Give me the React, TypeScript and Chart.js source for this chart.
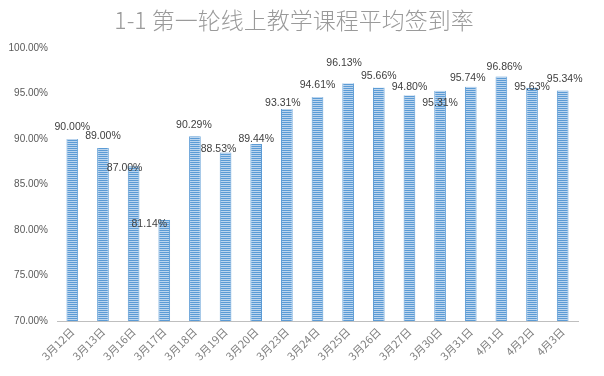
import React, { useEffect, useRef } from "react";
import { Chart, registerables } from "chart.js";

Chart.register(...registerables);

const TITLE = "1-1 第一轮线上教学课程平均签到率";
const categories = [
  "3月12日", "3月13日", "3月16日", "3月17日", "3月18日", "3月19日", "3月20日",
  "3月23日", "3月24日", "3月25日", "3月26日", "3月27日", "3月30日", "3月31日",
  "4月1日", "4月2日", "4月3日",
];
const rates = [
  90.0, 89.0, 87.0, 81.14, 90.29, 88.53, 89.44, 93.31, 94.61, 96.13, 95.66,
  94.8, 95.31, 95.74, 96.86, 95.63, 95.34,
];
const yTicks = [70, 75, 80, 85, 90, 95, 100];
// label nudges relative to the default "above bar" position (dx, dy in px)
const labelDx = [0, 0, -9, -15, -1, -7, 0, -4, 0, -4, 0, 0, 0, -3, 3, 0, 2];
const labelDy = [0, 0, 14, 16, 0, 8, 7, 6, 0, -8, 0, 3, 24, 3, 2, 11, 0];

function makeStripe(): CanvasPattern | string {
  const c = document.createElement("canvas");
  c.width = 4;
  c.height = 2;
  const g = c.getContext("2d");
  if (!g) return "#5b9bd5";
  g.fillStyle = "#5b9bd5";
  g.fillRect(0, 0, 4, 1);
  g.fillStyle = "#bcd5ee";
  g.fillRect(0, 1, 4, 1);
  return g.createPattern(c, "repeat") || "#5b9bd5";
}

const titlePlugin = {
  id: "customTitle",
  afterDraw(chart: any) {
    const ctx = chart.ctx;
    ctx.save();
    ctx.font = "300 23px 'Noto Sans CJK SC', sans-serif";
    ctx.fillStyle = "#9a9a9a";
    ctx.textAlign = "center";
    ctx.textBaseline = "middle";
    ctx.fillText(TITLE, 294, 20);
    ctx.restore();
  },
};

const labelPlugin = {
  id: "valueLabels",
  afterDatasetsDraw(chart: any) {
    const ctx = chart.ctx;
    const meta = chart.getDatasetMeta(0);
    ctx.save();
    ctx.font = "10.5px 'Liberation Sans', Arial, sans-serif";
    ctx.fillStyle = "#404040";
    ctx.textAlign = "center";
    ctx.textBaseline = "middle";
    meta.data.forEach((bar: any, i: number) => {
      const v = rates[i];
      ctx.fillText(v.toFixed(2) + "%", bar.x + labelDx[i], bar.y - 11.7 + labelDy[i]);
    });
    ctx.restore();
  },
};

export default function App() {
  const ref = useRef<HTMLCanvasElement | null>(null);
  useEffect(() => {
    if (!ref.current) return;
    const chart = new Chart(ref.current, {
      type: "bar",
      data: {
        labels: categories,
        datasets: [
          {
            data: rates,
            backgroundColor: makeStripe() as any,
            borderColor: "#5b9bd5",
            borderWidth: { top: 0, bottom: 0, left: 1, right: 1 } as any,
            borderSkipped: false,
            barPercentage: 0.38,
            categoryPercentage: 1,
          },
        ],
      },
      options: {
        animation: false,
        responsive: false,
        maintainAspectRatio: false,
        layout: { padding: { top: 48, left: 0, right: 26, bottom: 0 } },
        plugins: {
          legend: { display: false },
          title: { display: false },
          tooltip: { enabled: false },
        },
        scales: {
          x: {
            grid: { display: false, drawTicks: false },
            border: { display: true, color: "#bfbfbf", width: 1 },
            ticks: {
              minRotation: 45,
              maxRotation: 45,
              padding: 4,
              color: "#808080",
              font: { size: 11, family: "'Noto Sans CJK SC', sans-serif" },
            },
            afterFit(scale: any) {
              scale.height = 55;
            },
          },
          y: {
            min: 70,
            max: 100,
            grid: { display: false, drawTicks: false },
            border: { display: false },
            afterBuildTicks(scale: any) {
              scale.ticks = yTicks.map((v) => ({ value: v }));
            },
            ticks: {
              padding: 9,
              color: "#595959",
              font: { size: 10, family: "'Liberation Sans', Arial, sans-serif" },
              callback: (v: any) => Number(v).toFixed(2) + "%",
            },
            afterFit(scale: any) {
              scale.width = 57;
            },
          },
        },
      },
      plugins: [titlePlugin, labelPlugin],
    });
    return () => chart.destroy();
  }, []);
  return (
    <div style={{ position: "absolute", left: 0, top: 0, width: 604, height: 376, background: "#fff" }}>
      <canvas ref={ref} width={604} height={376} style={{ width: 604, height: 376 }} />
    </div>
  );
}
